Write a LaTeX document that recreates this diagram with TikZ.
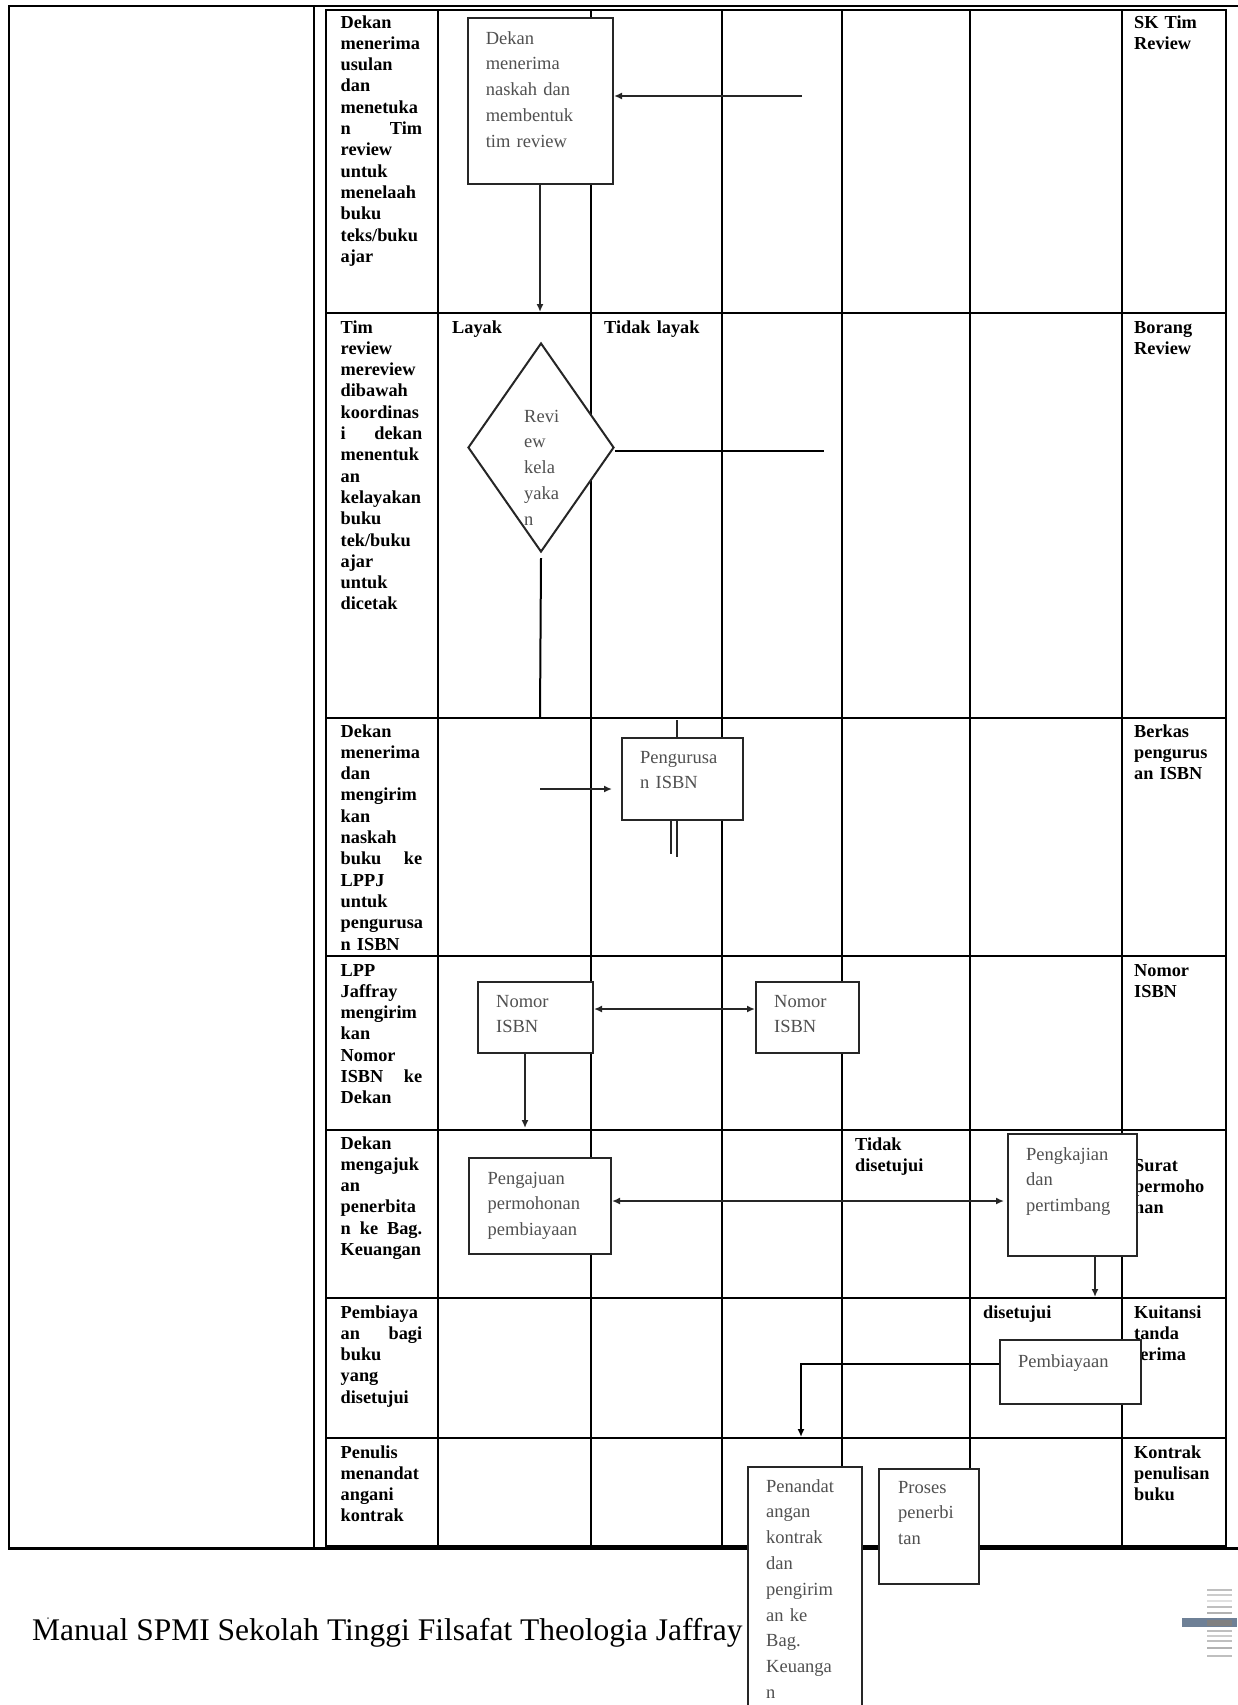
\documentclass[tikz,border=0pt]{standalone}
\usepackage{fontspec}
\setmainfont{Liberation Serif}
\usetikzlibrary{arrows.meta,shapes.geometric}
\definecolor{boxgray}{RGB}{80,80,80}
\definecolor{barblue}{RGB}{110,128,150}
\newcommand{\jline}[1]{\makebox[81.5pt][l]{#1}}
\begin{document}
\begin{tikzpicture}[x=1pt,y=-1pt,
  tbl/.style={line width=2pt,draw=black},
  outerln/.style={line width=2.6pt,draw=black},
  lbl/.style={font=\bfseries\fontsize{18.3}{21.3}\selectfont,anchor=base west,inner sep=0,text width=95pt,align=left},
  mlbl/.style={lbl,text width=160pt},
  btxt/.style={font=\fontsize{18.5}{25.8}\selectfont,text=boxgray,anchor=base west,inner sep=0,text width=120pt,align=left},
  gbox/.style={draw=black!85,line width=2pt,fill=white,inner sep=0,anchor=north west},
  conn/.style={draw=black!85,line width=2pt},
  arr/.style={conn,-{Latex[length=8pt,width=7pt]}},
  darr/.style={conn,{Latex[length=8pt,width=7pt]}-{Latex[length=8pt,width=7pt]}}]
\useasboundingbox (0,0) rectangle (1237,1705);

% ---- table frame ----
\draw[outerln] (1242,6) -- (9,6) -- (9,1548.5) -- (1242,1548.5);
\draw[outerln] (314,6) -- (314,1548.5);
\draw[tbl] (326,9.7) rectangle (1226,1545.5);
\foreach \x in {438,591,722,841.5,970,1122} \draw[tbl] (\x,9.7) -- (\x,1545.5);
\foreach \y in {313,718,956,1129.5,1298,1438} \draw[tbl] (326,\y) -- (1226,\y);

% ---- left column labels ----
\node[lbl] (l1) at (340.5,28) {Dekan\\menerima\\usulan\\dan\\menetuka\\\jline{n\hfill Tim}\\review\\untuk\\menelaah\\buku\\teks/buku\\ajar};
\node[lbl] (l2) at (340.5,333) {Tim\\review\\mereview\\dibawah\\koordinas\\\jline{i\hfill dekan}\\menentuk\\an\\kelayakan\\buku\\tek/buku\\ajar\\untuk\\dicetak};
\node[lbl] (l3) at (340.5,737) {Dekan\\menerima\\dan\\mengirim\\kan\\naskah\\\jline{buku\hfill ke}\\LPPJ\\untuk\\pengurusa\\n ISBN};
\node[lbl] (l4) at (340.5,976) {LPP\\Jaffray\\mengirim\\kan\\Nomor\\\jline{ISBN\hfill ke}\\Dekan};
\node[lbl] (l5) at (340.5,1149) {Dekan\\mengajuk\\an\\penerbita\\\jline{n\hfill ke\hfill Bag.}\\Keuangan};
\node[lbl] (l6) at (340.5,1318) {Pembiaya\\\jline{an\hfill bagi}\\buku\\yang\\disetujui};
\node[lbl] (l7) at (340.5,1458) {Penulis\\menandat\\angani\\kontrak};

% ---- right column labels ----
\node[lbl] (r1) at (1134,28) {SK Tim\\Review};
\node[lbl] (r2) at (1134,333) {Borang\\Review};
\node[lbl] (r3) at (1134,737) {Berkas\\pengurus\\an ISBN};
\node[lbl] (r4) at (1134,976) {Nomor\\ISBN};
\node[lbl] (r5) at (1134,1171) {Surat\\permoho\\nan};
\node[lbl] (r6) at (1134,1318) {Kuitansi\\tanda\\terima};
\node[lbl] (r7) at (1134,1458) {Kontrak\\penulisan\\buku};

% ---- middle labels ----
\node[mlbl] (m1) at (452,333) {Layak};
\node[mlbl] (m2) at (604,333) {Tidak layak};
\node[mlbl] (m3) at (855,1150) {Tidak\\disetujui};
\node[mlbl] (m4) at (983,1318) {disetujui};

% ---- footer ----
\node[anchor=base west,inner sep=0,font=\fontsize{31.5}{36}\selectfont] (foot) at (32,1640) {Manual SPMI Sekolah Tinggi Filsafat Theologia Jaffray};
\fill[black!60] (48,1618) circle (1);

% ---- boxes ----
\node[gbox,minimum width=145,minimum height=166] (dekan) at (467,17) {};
\node[btxt] (tdekan) at (485.6,44) {Dekan\\menerima\\naskah dan\\membentuk\\tim review};

\node[diamond,draw=black!85,line width=2pt,fill=white,inner sep=0,minimum width=146,minimum height=209] (rev) at (541,447.5) {};
\node[btxt] (trev) at (524,422) {Revi\\ew\\kela\\yaka\\n};

\node[gbox,minimum width=121,minimum height=82] (peng) at (621,737) {};
\node[btxt] (tpeng) at (640,763) {Pengurusa\\n ISBN};

\node[gbox,minimum width=115,minimum height=71] (nomA) at (477,981) {};
\node[btxt] (tnomA) at (496,1007) {Nomor\\ISBN};
\node[gbox,minimum width=103,minimum height=71] (nomB) at (755,981) {};
\node[btxt] (tnomB) at (774,1007) {Nomor\\ISBN};

\node[gbox,minimum width=142,minimum height=96] (ajuan) at (468,1157) {};
\node[btxt] (tajuan) at (487.5,1184) {Pengajuan\\permohonan\\pembiayaan};

\node[gbox,minimum width=129,minimum height=122] (kaji) at (1007,1133) {};
\node[btxt] (tkaji) at (1026,1160) {Pengkajian\\dan\\pertimbang};

\node[gbox,minimum width=141,minimum height=64] (biaya) at (999,1339) {};
\node[btxt] (tbiaya) at (1018,1367) {Pembiayaan};

\node[gbox,minimum width=114,minimum height=260] (tanda) at (747,1466) {};
\node[btxt] (ttanda) at (766,1492) {Penandat\\angan\\kontrak\\dan\\pengirim\\an ke\\Bag.\\Keuanga\\n};

\node[gbox,minimum width=100,minimum height=115] (proses) at (878,1468) {};
\node[btxt] (tproses) at (898,1493) {Proses\\penerbi\\tan};

% ---- connectors ----
\coordinate (c1) at (802,96);
\draw[arr] (c1) -- (c1 -| dekan.east);
\coordinate (c2) at (540,312);
\draw[arr] (dekan.south -| c2) -- (c2);
\coordinate (c3) at (824,451);
\draw[conn,draw=black] (rev.east |- c3) -- (c3);
\coordinate (c4) at (540,717);
\draw[conn,draw=black] ([yshift=-5pt]rev.south) -- (c4);
\coordinate (c5) at (540,789);
\draw[arr,shorten >=9pt] (c5) -- (c5 -| peng.west);
\coordinate (c6) at (677,720);
\draw[conn] (c6) -- (c6 |- peng.north);
\coordinate (c7) at (671,854);
\coordinate (c8) at (677,857);
\draw[conn] (c7 |- peng.south) -- (c7);
\draw[conn] (c8 |- peng.south) -- (c8);
\coordinate (c9) at (600,1009);
\draw[darr] (nomA.east |- c9) -- (nomB.west |- c9);
\coordinate (c10) at (525,1128);
\draw[arr] (c10 |- nomA.south) -- (c10);
\coordinate (c11) at (700,1201);
\draw[darr,shorten >=3pt] (ajuan.east |- c11) -- (kaji.west |- c11);
\coordinate (c12) at (1095,1297);
\draw[arr] (c12 |- kaji.south) -- (c12);
\coordinate (c13) at (801,1364);
\coordinate (c14) at (801,1437);
\draw[arr,draw=black] (biaya.west |- c13) -- (c13) -- (c14);

% ---- scroll artifact ----
\foreach \y/\g in {1590/25,1595/20,1601/12,1607/25,1613/30,1631/25,1636/20,1641/25,1648/30,1656/25}
  \draw[line width=1.6pt,draw=black!\g] (1207,\y) -- (1232,\y);
\fill[barblue] (1182,1618) rectangle (1237,1627);
\fill[black!50] (1207,1619.5) rectangle (1232,1625.5);
\end{tikzpicture}
\end{document}
